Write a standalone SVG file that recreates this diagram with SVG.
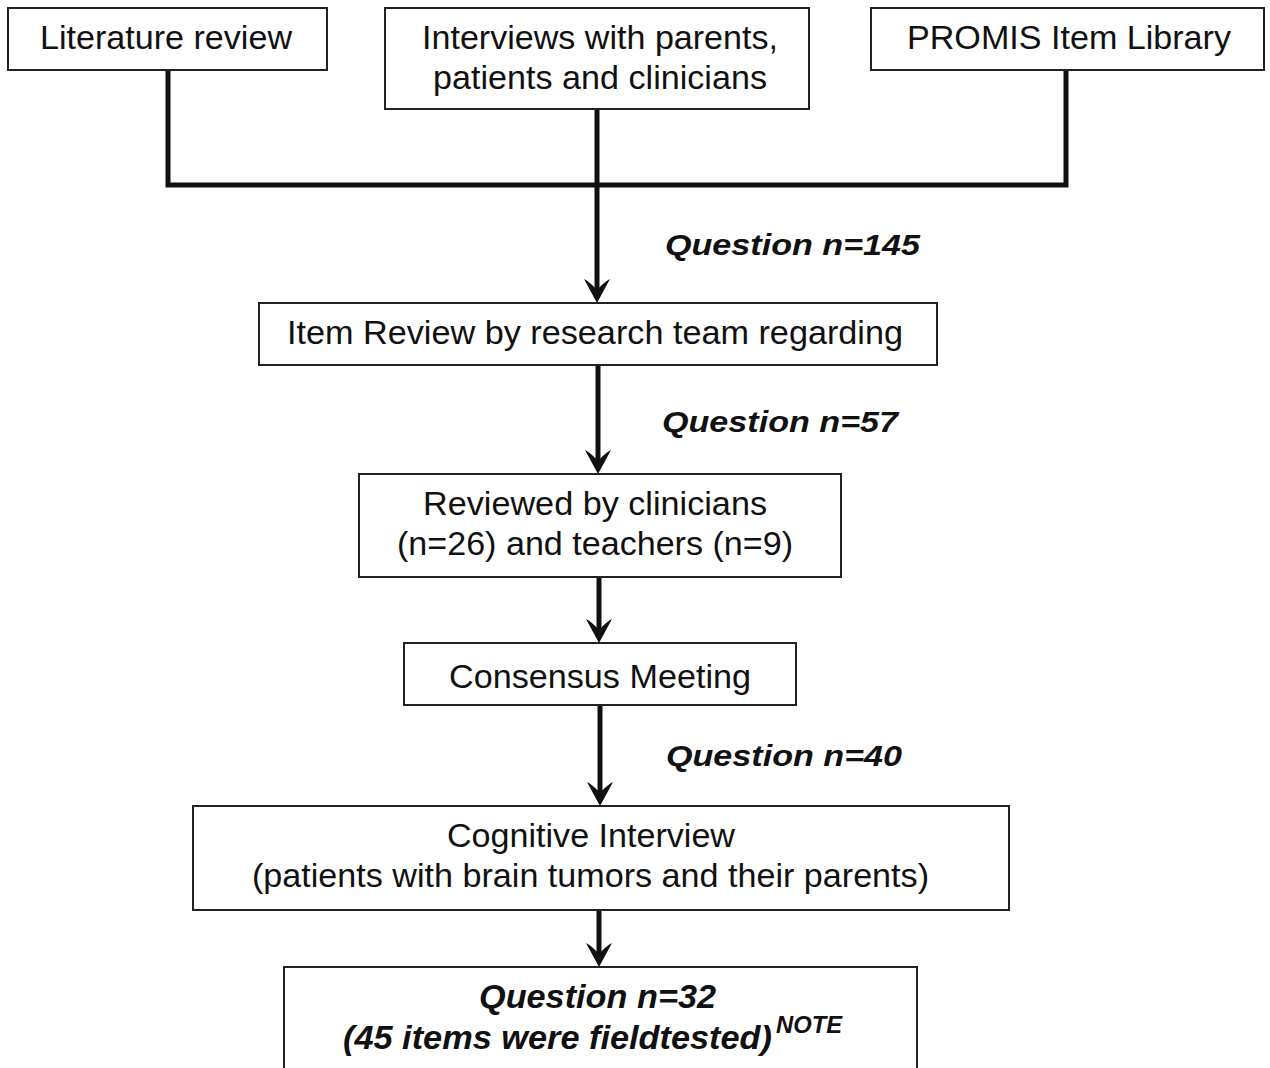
<svg xmlns="http://www.w3.org/2000/svg" width="1270" height="1068" viewBox="0 0 1270 1068">
<style>
.box{fill:#fff;stroke:#222;stroke-width:2}
.t{font-family:"Liberation Sans",Arial,sans-serif;font-size:33.5px;fill:#111}
.q{font-family:"Liberation Sans",Arial,sans-serif;font-size:29px;font-weight:bold;font-style:italic;fill:#111}
.c{fill:none;stroke:#111;stroke-width:5}
.h{fill:#111}
</style>
<g id="connectors">
<path class="c" d="M168,70 V185 H1066 V70"/>
<path class="c" d="M597,109 V296"/>
<path class="h" d="M597,303 L584,279 Q590,282 597,290 Q604,282 610,279 Z"/>
<path class="c" d="M598,365 V467"/>
<path class="h" d="M598,474 L585,450 Q591,453 598,461 Q605,453 611,450 Z"/>
<path class="c" d="M599,577 V636"/>
<path class="h" d="M599,643 L586,619 Q592,622 599,630 Q606,622 612,619 Z"/>
<path class="c" d="M600,705 V799"/>
<path class="h" d="M600,806 L587,782 Q593,785 600,793 Q607,785 613,782 Z"/>
<path class="c" d="M599,910 V960"/>
<path class="h" d="M599,967 L586,943 Q592,946 599,954 Q606,946 612,943 Z"/>
</g>
<g id="label-145"><text class="q" x="665" y="255" textLength="255" lengthAdjust="spacingAndGlyphs">Question n=145</text></g>
<g id="label-57"><text class="q" x="662" y="432" textLength="236" lengthAdjust="spacingAndGlyphs">Question n=57</text></g>
<g id="label-40"><text class="q" x="666" y="766" textLength="236" lengthAdjust="spacingAndGlyphs">Question n=40</text></g>
<g id="n-literature">
<rect class="box" x="8" y="8" width="319" height="62"/>
<text class="t" x="40" y="49" textLength="252" lengthAdjust="spacingAndGlyphs">Literature review</text>
</g>
<g id="n-interviews">
<rect class="box" x="385" y="8" width="424" height="101"/>
<text class="t" x="422" y="49" textLength="356" lengthAdjust="spacingAndGlyphs">Interviews with parents,</text>
<text class="t" x="433" y="89" textLength="334" lengthAdjust="spacingAndGlyphs">patients and clinicians</text>
</g>
<g id="n-promis">
<rect class="box" x="871" y="8" width="393" height="62"/>
<text class="t" x="907" y="49" textLength="324" lengthAdjust="spacingAndGlyphs">PROMIS Item Library</text>
</g>
<g id="n-itemreview">
<rect class="box" x="259" y="303" width="678" height="62"/>
<text class="t" x="287" y="344" textLength="616" lengthAdjust="spacingAndGlyphs">Item Review by research team regarding</text>
</g>
<g id="n-reviewed">
<rect class="box" x="359" y="474" width="482" height="103"/>
<text class="t" x="423" y="515" textLength="344" lengthAdjust="spacingAndGlyphs">Reviewed by clinicians</text>
<text class="t" x="397" y="555" textLength="396" lengthAdjust="spacingAndGlyphs">(n=26) and teachers (n=9)</text>
</g>
<g id="n-consensus">
<rect class="box" x="404" y="643" width="392" height="62"/>
<text class="t" x="449" y="688" textLength="302" lengthAdjust="spacingAndGlyphs">Consensus Meeting</text>
</g>
<g id="n-cognitive">
<rect class="box" x="193" y="806" width="816" height="104"/>
<text class="t" x="447" y="847" textLength="288" lengthAdjust="spacingAndGlyphs">Cognitive Interview</text>
<text class="t" x="252" y="887" textLength="677" lengthAdjust="spacingAndGlyphs">(patients with brain tumors and their parents)</text>
</g>
<g id="n-final">
<rect class="box" x="284" y="967" width="633" height="110"/>
<text class="q" style="font-size:33px" x="479" y="1008" textLength="237" lengthAdjust="spacingAndGlyphs">Question n=32</text>
<text class="q" style="font-size:33px" x="343" y="1049" textLength="429" lengthAdjust="spacingAndGlyphs">(45 items were fieldtested)</text>
<text class="q" style="font-size:23px" x="776" y="1033" textLength="66" lengthAdjust="spacingAndGlyphs">NOTE</text>
</g>
</svg>
